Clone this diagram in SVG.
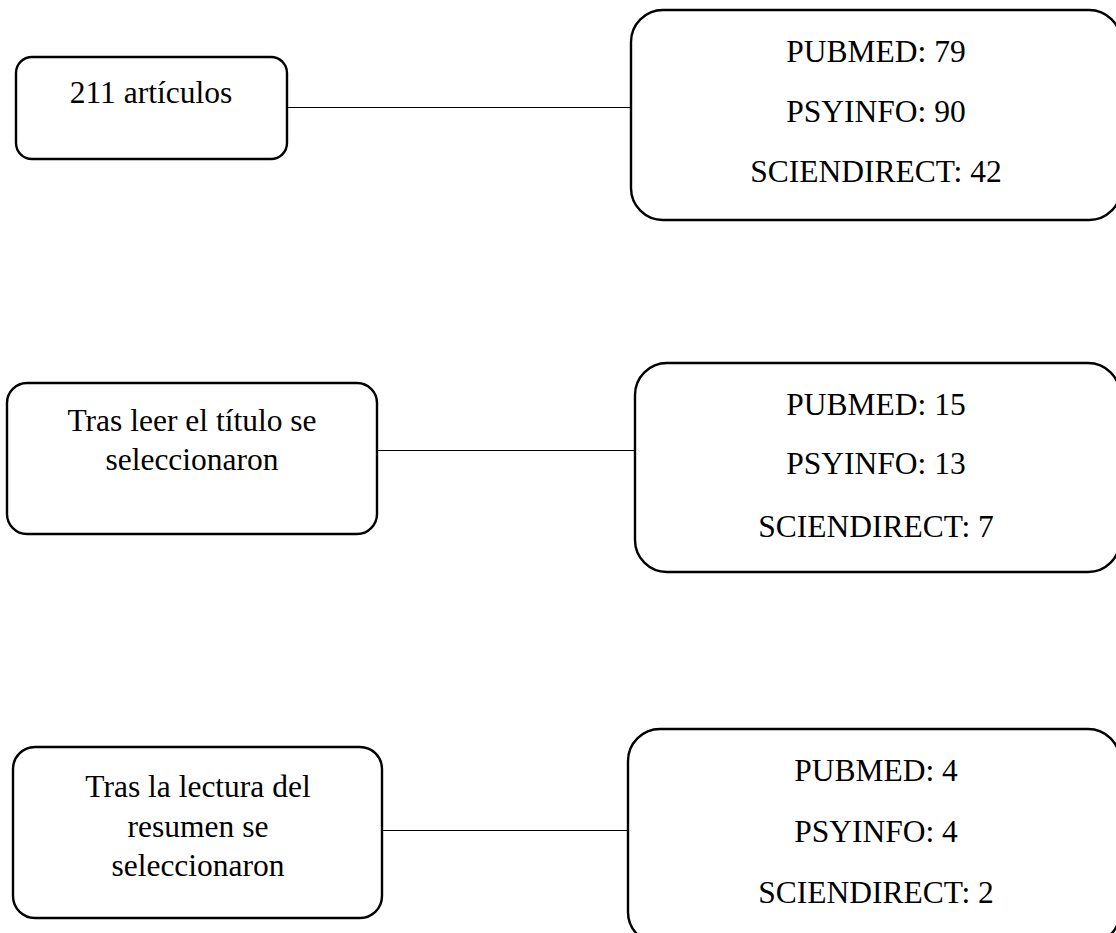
<svg xmlns="http://www.w3.org/2000/svg" width="1116" height="933" viewBox="0 0 1116 933">
<style>
.box{fill:#fff;stroke:#000;stroke-width:2.4}
.t{font-family:"Liberation Serif","Times New Roman",serif;font-size:31.5px;fill:#000;text-anchor:middle}
.c{stroke:#000;stroke-width:1;fill:none}
</style>
<rect width="1116" height="933" fill="#fff"/>
<g id="connectors">
<line class="c" x1="287" y1="107.5" x2="631" y2="107.5"/>
<line class="c" x1="374" y1="450.5" x2="635" y2="450.5"/>
<line class="c" x1="378" y1="830.5" x2="628" y2="830.5"/>
</g>
<g id="n1">
<rect class="box" x="16" y="57" width="271" height="102" rx="16"/>
<text class="t" x="151" y="103">211 artículos</text>
</g>
<g id="n2">
<rect class="box" x="631" y="10" width="490" height="210" rx="32"/>
<text class="t" x="876" y="62">PUBMED: 79</text>
<text class="t" x="876" y="122">PSYINFO: 90</text>
<text class="t" x="876" y="182">SCIENDIRECT: 42</text>
</g>
<g id="n3">
<rect class="box" x="7" y="383" width="370" height="151" rx="20"/>
<text class="t" x="192" y="431">Tras leer el título se</text>
<text class="t" x="192" y="470">seleccionaron</text>
</g>
<g id="n4">
<rect class="box" x="635" y="363" width="485" height="209" rx="32"/>
<text class="t" x="876" y="415">PUBMED: 15</text>
<text class="t" x="876" y="474">PSYINFO: 13</text>
<text class="t" x="876" y="537">SCIENDIRECT: 7</text>
</g>
<g id="n5">
<rect class="box" x="13" y="747" width="369" height="171" rx="22"/>
<text class="t" x="198" y="797">Tras la lectura del</text>
<text class="t" x="198" y="837">resumen se</text>
<text class="t" x="198" y="876">seleccionaron</text>
</g>
<g id="n6">
<rect class="box" x="628" y="729" width="492" height="215" rx="32"/>
<text class="t" x="876" y="781">PUBMED: 4</text>
<text class="t" x="876" y="842">PSYINFO: 4</text>
<text class="t" x="876" y="903">SCIENDIRECT: 2</text>
</g>
</svg>
